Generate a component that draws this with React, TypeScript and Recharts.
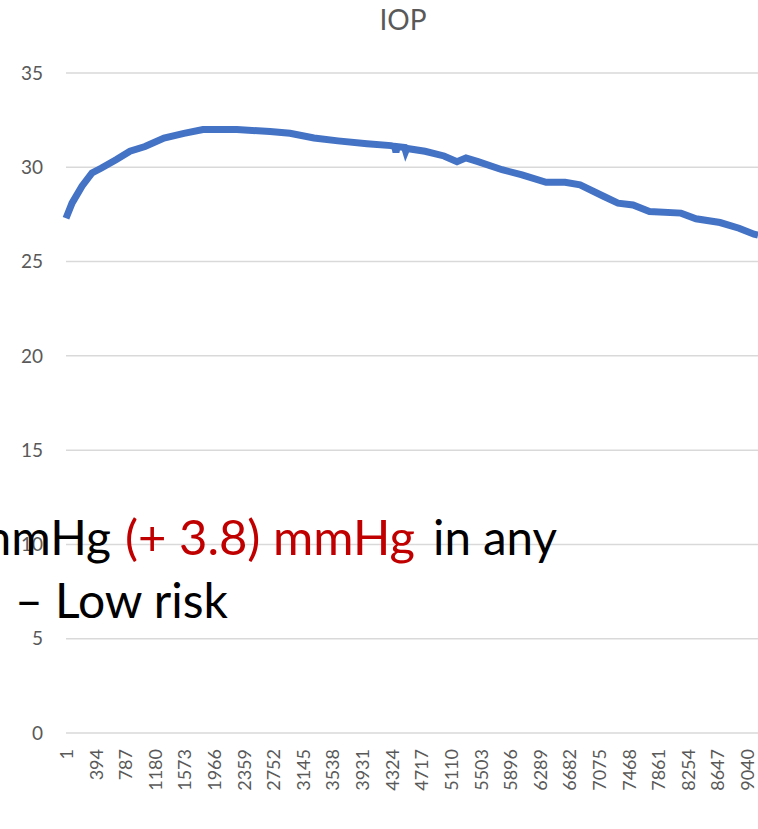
import React from 'react';
import { LineChart, Line, XAxis, YAxis, CartesianGrid } from 'recharts';

// sample index along the recording
const sampleIdx = [
  1, 81, 213, 346, 466, 665, 850, 1050, 1302, 1567, 1819, 2271, 2709, 2974,
  3293, 3611, 3996, 4315, 4365, 4381, 4397, 4495, 4510, 4525, 4766, 5018,
  5191, 5310, 5470, 5789, 6054, 6373, 6625, 6824, 7142, 7328, 7527, 7746,
  8164, 8363, 8682, 8934, 9133, 9186,
];

// IOP in mmHg
const iopValues = [
  27.3, 28.1, 29.0, 29.7, 29.95, 30.4, 30.85, 31.1, 31.55, 31.8, 32.0, 32.0,
  31.9, 31.8, 31.55, 31.4, 31.25, 31.15, 31.1, 30.8, 31.1, 31.05, 30.85,
  31.0, 30.85, 30.6, 30.3, 30.5, 30.3, 29.87, 29.6, 29.2, 29.2, 29.07, 28.45,
  28.1, 28.0, 27.65, 27.57, 27.27, 27.07, 26.77, 26.45, 26.4,
];

const xTicks = [
  1, 394, 787, 1180, 1573, 1966, 2359, 2752, 3145, 3538, 3931, 4324, 4717,
  5110, 5503, 5896, 6289, 6682, 7075, 7468, 7861, 8254, 8647, 9040,
];
const yTicks = [0, 5, 10, 15, 20, 25, 30, 35];

const data = sampleIdx.map((idx, i) => ({ idx, iop: iopValues[i] }));

const font = 'Lato, "Noto Sans", sans-serif';

const XTick = ({ x, y, payload }: any) => (
  <text
    x={x}
    y={y}
    transform={`rotate(-90 ${x} ${y})`}
    textAnchor="end"
    dominantBaseline="central"
    fill="#595959"
    fontSize={18}
    fontFamily={font}
  >
    {payload.value}
  </text>
);

export default function App() {
  return (
    <div style={{ position: 'absolute', left: 0, top: 0, width: 758, height: 829 }}>
      <LineChart
        width={758}
        height={829}
        data={data}
        margin={{ top: 73, right: 0, bottom: 36, left: 0 }}
      >
        <CartesianGrid vertical={false} stroke="#d9d9d9" strokeWidth={1.5} />
        <XAxis
          dataKey="idx"
          type="number"
          domain={[1, 9186]}
          ticks={xTicks}
          interval={0}
          axisLine={false}
          tickLine={false}
          tickSize={0}
          tickMargin={16}
          height={60}
          tick={<XTick />}
        />
        <YAxis
          type="number"
          domain={[0, 35]}
          ticks={yTicks}
          width={66}
          axisLine={false}
          tickLine={false}
          tickSize={0}
          tickMargin={23}
          tick={{ fill: '#595959', fontSize: 19, fontFamily: font }}
        />
        <Line
          type="linear"
          dataKey="iop"
          stroke="#4472C4"
          strokeWidth={7}
          dot={false}
          isAnimationActive={false}
        />
      </LineChart>
      <svg
        width={758}
        height={829}
        style={{ position: 'absolute', left: 0, top: 0, pointerEvents: 'none' }}
      >
        <text x={403} y={30} textAnchor="middle" fill="#595959" fontSize={28} fontFamily={font}>
          IOP
        </text>
        <g fontFamily={font} fontSize={48}>
          <text x={111} y={555} textAnchor="end" fill="#000">mmHg</text>
          <text x={125} y={555} fill="#C00000" textLength={290} lengthAdjust="spacingAndGlyphs">
            (+ 3.8) mmHg
          </text>
          <text x={433} y={555} fill="#000" textLength={124} lengthAdjust="spacingAndGlyphs">
            in any
          </text>
          <text x={15} y={618} fill="#000" textLength={213} lengthAdjust="spacingAndGlyphs">
            – Low risk
          </text>
        </g>
      </svg>
    </div>
  );
}
